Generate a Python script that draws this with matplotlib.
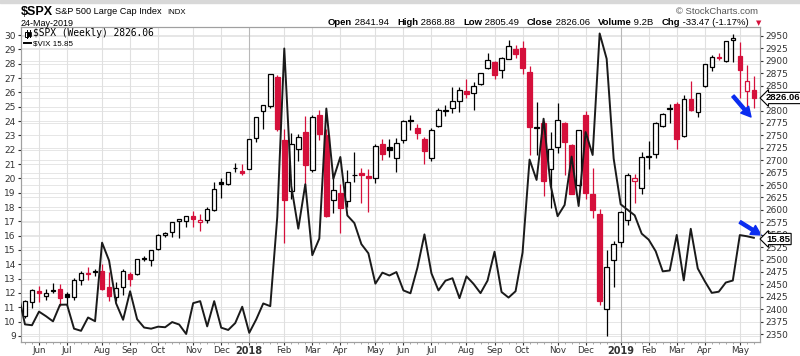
import matplotlib.pyplot as plt
from matplotlib.lines import Line2D
from matplotlib.patches import Rectangle
import numpy as np
import pandas as pd

# weekly bars, dated by the Monday of each week
weeks = pd.date_range('2017-05-22', periods=105, freq='W-MON')

spx_open = [2387, 2415, 2436, 2427, 2437, 2441, 2430, 2424, 2459, 2471,
            2474, 2477, 2444, 2425, 2444, 2470, 2470, 2501, 2500, 2521,
            2550, 2555, 2578, 2577, 2588, 2576, 2579, 2600, 2657, 2652,
            2685, 2679,
            2683, 2745, 2799, 2809, 2867, 2741, 2637, 2723, 2757, 2681,
            2790, 2751, 2619, 2633, 2617, 2670.5, 2675, 2668, 2665, 2732,
            2726, 2705, 2741, 2781, 2765, 2743, 2705, 2768, 2800, 2805,
            2819, 2840, 2835, 2853, 2885, 2897, 2881, 2904, 2924, 2926,
            2877, 2764, 2774, 2683, 2726, 2774, 2731, 2650, 2790, 2631,
            2591, 2401, 2499,
            2536, 2580, 2658, 2645, 2706, 2712, 2769, 2804.4, 2814, 2748,
            2823, 2796, 2849, 2888, 2908, 2899, 2941, 2909, 2840, 2841.94]
spx_high = [2418, 2440, 2446, 2441, 2453, 2450, 2435, 2463, 2477, 2484,
            2480, 2491, 2474, 2454, 2480, 2474, 2500, 2508, 2520, 2552,
            2556, 2576, 2582, 2588, 2597, 2591, 2605, 2657, 2665, 2677,
            2695, 2692,
            2743, 2787, 2810, 2873, 2871, 2763, 2754, 2752, 2789, 2791,
            2802, 2762, 2675, 2653, 2680, 2717, 2684, 2683, 2733, 2742,
            2742, 2744, 2781, 2790, 2773, 2746, 2764, 2805, 2811, 2848,
            2847, 2863, 2858, 2876, 2916, 2900, 2907, 2941, 2932, 2940,
            2889, 2817, 2779, 2756, 2815, 2776, 2733, 2761, 2800, 2685,
            2601, 2520, 2538,
            2598, 2675, 2672, 2717, 2739, 2776, 2794, 2813, 2817, 2831,
            2860, 2836, 2893, 2911, 2916, 2940, 2954, 2937, 2891, 2868.88]
spx_low = [2382, 2403, 2415, 2419, 2432, 2406, 2408, 2418, 2448, 2459,
           2466, 2438, 2417, 2417, 2428, 2447, 2469, 2497, 2487, 2520,
           2545, 2546, 2544, 2566, 2566, 2557, 2574, 2597, 2624, 2650,
           2676, 2670,
           2682, 2736, 2762, 2806, 2759, 2533, 2622, 2699, 2647, 2676,
           2741, 2586, 2593, 2554, 2605, 2657, 2613, 2595, 2655, 2701,
           2706, 2676, 2735, 2761, 2742, 2692, 2699, 2766, 2788, 2795,
           2796, 2826, 2802, 2851, 2884, 2864, 2865, 2903, 2905, 2874,
           2710, 2710, 2628, 2604, 2714, 2671, 2631, 2649, 2622, 2583,
           2409, 2347, 2444,
           2525, 2570, 2613, 2632, 2682, 2704, 2766, 2775, 2722, 2746,
           2800, 2786, 2848, 2879, 2901, 2898, 2898, 2825, 2801, 2805.49]
spx_close = [2415.8, 2439.1, 2431.8, 2433.2, 2438.3, 2423.4, 2425.2, 2459.3, 2472.5, 2472.1,
             2476.8, 2441.3, 2425.6, 2443.1, 2476.6, 2461.4, 2500.2, 2502.2, 2519.4, 2549.3,
             2553.2, 2575.2, 2581.1, 2587.8, 2582.3, 2578.9, 2602.4, 2642.2, 2651.5, 2675.8,
             2683.3, 2673.6,
             2743.2, 2786.2, 2810.3, 2872.9, 2762.1, 2619.6, 2732.2, 2747.3, 2691.3, 2786.6,
             2752.0, 2588.3, 2640.9, 2604.5, 2656.3, 2670.1, 2669.9, 2663.4, 2727.7, 2713.0,
             2721.3, 2734.6, 2779.0, 2779.7, 2754.9, 2718.4, 2759.8, 2801.3, 2801.8, 2818.8,
             2840.4, 2833.3, 2850.1, 2874.7, 2901.5, 2871.7, 2905.0, 2929.7, 2914.0, 2885.6,
             2767.1, 2767.8, 2658.7, 2723.1, 2781.0, 2736.3, 2632.6, 2760.2, 2633.1, 2600.0,
             2416.6, 2485.7, 2531.9,
             2596.3, 2670.7, 2664.8, 2706.5, 2707.9, 2775.6, 2792.7, 2803.7, 2743.1, 2822.5,
             2800.7, 2834.4, 2892.7, 2907.4, 2905.0, 2939.9, 2945.6, 2881.4, 2859.5, 2826.06]
spx_prev_close = 2381.7  # close of the week before the first bar

# weekly VIX closes, first value is the week before the first bar
vix_close = [12.04,
             9.81, 9.75, 10.70, 10.38, 10.02, 11.18, 11.19, 9.51, 9.36, 10.29,
             10.03, 15.51, 14.26, 11.28, 10.13, 12.12, 10.17, 9.59, 9.51, 9.65,
             9.61, 9.97, 9.80, 9.14, 11.29, 11.43, 9.67, 11.43, 9.58, 9.42,
             9.90, 11.04,
             9.22, 10.16, 11.27, 11.08, 17.31, 29.06, 19.46, 16.49, 19.59, 14.64,
             15.80, 24.87, 19.97, 21.49, 17.41, 16.88, 15.41, 14.77, 12.65, 13.42,
             13.22, 13.46, 12.18, 11.98, 13.77, 16.09, 13.37, 12.18, 12.86, 13.03,
             11.64, 13.16, 12.64, 11.99, 12.86, 14.88, 12.07, 11.68, 12.12, 14.82,
             21.31, 19.89, 24.16, 19.51, 17.36, 18.14, 21.52, 18.07, 23.23, 21.63,
             30.11, 28.34, 21.38,
             18.19, 17.80, 17.42, 16.14, 15.72, 14.91, 13.51, 13.57, 16.05, 12.88,
             16.48, 13.71, 12.82, 12.01, 12.09, 12.73, 12.87, 16.04, 15.96, 15.85]

spx_ticks = list(range(2350, 2951, 25))
vix_ticks = list(range(9, 31))

header_parts = [('Open', True), (' 2841.94   ', False), ('High', True), (' 2868.88   ', False),
                ('Low', True), (' 2805.49   ', False), ('Close', True), (' 2826.06   ', False),
                ('Volume', True), (' 9.2B   ', False), ('Chg', True), (' -33.47 (-1.17%)', False)]

W, H = 800, 356
RED = '#d5103b'
SPX_LIM = (2334, 2967.5)
VIX_LIM = (8.58, 30.54)
hfont = 'Liberation Sans'


def fx(x):
    return x / W


def fy(y):
    return 1 - y / H


fig = plt.figure(figsize=(W / 100, H / 100), dpi=100)
fig.patch.set_facecolor('white')
ax = fig.add_axes([fx(20.7), fy(342), (760 - 20.7) / W, (342 - 27.3) / H])
ax2 = ax.twinx()

n = len(spx_close)
xs = np.arange(n)
o = np.array(spx_open)
h = np.array(spx_high)
lo = np.array(spx_low)
c = np.array(spx_close)
prev = np.concatenate([[spx_prev_close], c[:-1]])

# grid: spx levels, vix levels (mapped into spx units), month starts
ax.set_ylim(*SPX_LIM)
ax.set_xlim(-0.61, 104.88)
for p in spx_ticks:
    ax.axhline(p, color='#e6e6e6', lw=0.7, zorder=0)
scale = (SPX_LIM[1] - SPX_LIM[0]) / (VIX_LIM[1] - VIX_LIM[0])
for v in vix_ticks:
    ax.axhline(SPX_LIM[0] + (v - VIX_LIM[0]) * scale, color='#e6e6e6', lw=0.7, zorder=0)

month_pos, month_lab = [], []
for i in range(1, n):
    if weeks[i].month != weeks[i - 1].month:
        month_pos.append(i)
        month_lab.append(str(weeks[i].year) if weeks[i].month == 1 else weeks[i].strftime('%b'))
for i, lab in zip(month_pos, month_lab):
    ax.axvline(i, color='#b8b8b8' if lab.isdigit() else '#e0e0e0', lw=0.8, zorder=0)

# candles: red if close below previous close, filled if close below open
for i in range(n):
    col = RED if c[i] < prev[i] else 'black'
    filled = c[i] < o[i]
    ax.vlines(xs[i], lo[i], h[i], color=col, lw=0.9, zorder=2)
    bot = min(o[i], c[i])
    ht = max(abs(c[i] - o[i]), 0.6)
    ax.bar(xs[i], ht, bottom=bot, width=0.64, color=col if filled else 'white',
           edgecolor=col, linewidth=0.9, zorder=3)

# VIX line
ax2.set_ylim(*VIX_LIM)
ax2.plot(np.arange(-1, n), vix_close, color='#1a1a1a', lw=1.4, zorder=4)

# axes styling
ax.yaxis.tick_right()
ax.set_yticks(spx_ticks)
ax.set_yticklabels([str(t) for t in spx_ticks])
ax2.yaxis.tick_left()
ax2.set_yticks(vix_ticks)
ax2.set_yticklabels([str(t) for t in vix_ticks])
ax.tick_params(axis='y', labelsize=6.5, colors='#333333', length=2, pad=1.5)
ax2.tick_params(axis='y', labelsize=6.5, colors='#333333', length=2, pad=1.5)
ax.set_xticks(month_pos)
ax.set_xticklabels(month_lab)
ax.set_xticks(xs, minor=True)
ax.tick_params(axis='x', which='major', labelsize=6.3, colors='#333333', length=2, pad=1)
ax.tick_params(axis='x', which='minor', length=1.5, color='#999999')
for t in ax.get_xticklabels():
    if t.get_text().isdigit():
        t.set_fontweight('bold')
        t.set_fontsize(7)
for a in (ax, ax2):
    for s in a.spines.values():
        s.set_color('#a0a0a0')
        s.set_linewidth(0.8)

# header
fig.add_artist(Rectangle((0, fy(3)), 1, 3 / H, transform=fig.transFigure,
                         color='#d8d8d8', zorder=0))
fig.text(fx(21), fy(12), '$SPX', fontsize=9, fontweight='bold', family=hfont, va='center')
fig.text(fx(55), fy(12), 'S&P 500 Large Cap Index', fontsize=6.6, family=hfont, va='center')
fig.text(fx(167), fy(12), 'INDX', fontsize=5.6, family=hfont, va='center')
fig.text(fx(21), fy(23), '24-May-2019', fontsize=6.5, family=hfont, va='center')
fig.text(fx(758), fy(11), '\u00a9 StockCharts.com', fontsize=6.8, family=hfont,
         va='center', ha='right', color='#555555')

anchor = fig.text(fx(328), fy(27), header_parts[0][0], fontsize=6.8, family=hfont,
                  fontweight='bold', va='bottom')
for s, bold in header_parts[1:]:
    anchor = fig.add_artist(plt.Annotation(s, xy=(1, 0), xycoords=anchor,
                                           va='bottom', ha='left', fontsize=6.8, family=hfont,
                                           fontweight='bold' if bold else 'normal'))
fig.text(fx(756), fy(23.5), '\u25bc', fontsize=5, color=RED, va='center', ha='left')

# legend inside the plot
fig.add_artist(Line2D([fx(26.5), fx(26.5)], [fy(30), fy(38)], color='black', lw=0.7))
fig.add_artist(Rectangle((fx(25), fy(36.5)), 3 / W, 5 / H, transform=fig.transFigure,
                         fc='white', ec='black', lw=0.7))
fig.add_artist(Line2D([fx(29.5), fx(29.5)], [fy(30), fy(37)], color='black', lw=0.7))
fig.add_artist(Rectangle((fx(28.5), fy(36)), 2 / W, 4 / H, transform=fig.transFigure,
                         fc='black', ec='black', lw=0.5))
fig.text(fx(33), fy(33.5), '$SPX (Weekly) 2826.06', fontsize=6.9,
         family='DejaVu Sans Mono', va='center')
fig.add_artist(Line2D([fx(24), fx(31)], [fy(43), fy(43)], color='black', lw=1.4))
fig.text(fx(33), fy(43.5), '$VIX 15.85', fontsize=5.8, family=hfont, va='center')

# last value tags
tag = dict(boxstyle='larrow,pad=0.12', fc='white', ec='black', lw=0.8)
fig.text(fx(766), fy(98), '2826.06', fontsize=6.8, fontweight='bold', family=hfont,
         va='center', ha='left', bbox=tag, zorder=10)
fig.text(fx(766), fy(239), '15.85', fontsize=6.8, fontweight='bold', family=hfont,
         va='center', ha='left', bbox=tag, zorder=10)

# blue arrows
arrow = dict(facecolor='#0a2cf0', edgecolor='#0a2cf0', width=2.2, headwidth=7.5, headlength=7)
ax.annotate('', xy=(751, H - 117), xytext=(733, H - 96), xycoords='figure pixels',
            textcoords='figure pixels', arrowprops=arrow, annotation_clip=False)
ax.annotate('', xy=(761, H - 235), xytext=(740, H - 222), xycoords='figure pixels',
            textcoords='figure pixels', arrowprops=arrow, annotation_clip=False)

fig.savefig('out.png', dpi=100)
